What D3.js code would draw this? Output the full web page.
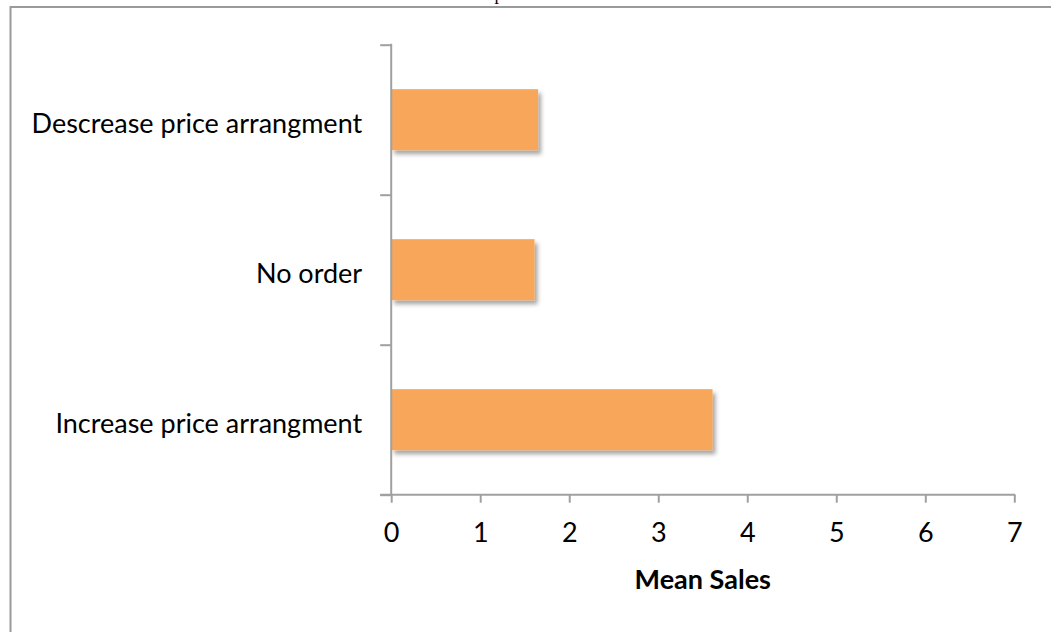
<!DOCTYPE html>
<html>
<head>
<meta charset="utf-8">
<script src="https://cdn.jsdelivr.net/npm/d3@7"></script>
<style>
  html, body { margin: 0; padding: 0; background: #fff; }
  svg { display: block; }
  text { font-family: Lato, "Open Sans", sans-serif; fill: #000; }
</style>
</head>
<body>
<svg id="chart" width="1051" height="632"></svg>
<script>
// Mean sales for each price arrangement condition
const categories = ["Descrease price arrangment", "No order", "Increase price arrangment"];
const meanSales = [1.65, 1.61, 3.61];
const xTicks = [0, 1, 2, 3, 4, 5, 6, 7];
const xTitle = "Mean Sales";

const W = 1051, H = 632;
const plot = { left: 391.2, right: 1014.3, top: 44.7, bottom: 494.7 };
const axisColor = "#a0a0a0";
const barColor = "#f8a75a";

const svg = d3.select("#chart");

// drop shadow for the bars
const defs = svg.append("defs");
const f = defs.append("filter").attr("id", "shadow")
  .attr("x", "-10%").attr("y", "-20%").attr("width", "130%").attr("height", "160%");
f.append("feDropShadow").attr("dx", 3).attr("dy", 4).attr("stdDeviation", 2.2)
  .attr("flood-color", "#000").attr("flood-opacity", 0.35);

// outer chart frame (runs past the right and bottom edges)
svg.append("rect")
  .attr("x", 10.5).attr("y", 7).attr("width", W + 20).attr("height", H + 20)
  .attr("fill", "none").attr("stroke", "#9a9a9a").attr("stroke-width", 2);

// title above the frame; only its descender reaches into view
svg.append("text")
  .attr("x", 499).attr("y", -0.5)
  .attr("text-anchor", "middle")
  .style("font-family", "'Liberation Serif', serif")
  .style("font-size", "18px")
  .text("p");

const x = d3.scaleLinear().domain([0, 7]).range([plot.left, plot.right]);
const y = d3.scaleBand().domain(categories)
  .range([plot.top, plot.bottom])
  .paddingInner(0.593).paddingOuter(0.2965);

// bars
svg.append("g").selectAll("rect")
  .data(categories.map((c, i) => ({ c, v: meanSales[i] })))
  .join("rect")
  .attr("x", x(0))
  .attr("y", d => y(d.c))
  .attr("width", d => x(d.v) - x(0))
  .attr("height", y.bandwidth())
  .attr("fill", barColor)
  .attr("filter", "url(#shadow)");

// vertical category axis: boundary ticks between categories
const yEdge = d3.scaleLinear().domain([0, categories.length]).range([plot.bottom, plot.top]);
const gy = svg.append("g").attr("transform", `translate(${plot.left},0)`)
  .call(d3.axisLeft(yEdge).ticks(categories.length).tickSize(11).tickSizeOuter(0).tickFormat(""));
gy.select(".domain").remove();
gy.selectAll(".tick line").attr("stroke", axisColor).attr("stroke-width", 2);
gy.append("line")
  .attr("x1", 0).attr("x2", 0).attr("y1", plot.top - 1).attr("y2", plot.bottom)
  .attr("stroke", axisColor).attr("stroke-width", 2);

// category labels
svg.append("g").selectAll("text")
  .data(categories)
  .join("text")
  .attr("x", plot.left - 29)
  .attr("y", d => y(d) + y.bandwidth() / 2)
  .attr("dy", "0.5em")
  .attr("text-anchor", "end")
  .style("font-size", "27px")
  .text(d => d);

// horizontal value axis
const gx = svg.append("g").attr("transform", `translate(0,${plot.bottom})`)
  .call(d3.axisBottom(x).tickValues(xTicks).tickSize(8).tickSizeOuter(0).tickFormat(d3.format("d")));
gx.select(".domain").remove();
gx.selectAll(".tick line").attr("stroke", axisColor).attr("stroke-width", 2);
gx.selectAll(".tick text")
  .attr("y", 28)
  .attr("dy", "0.71em")
  .style("font-family", "Lato, sans-serif")
  .style("font-size", "27px")
  .attr("fill", "#000");
gx.append("line")
  .attr("x1", plot.left - 11).attr("x2", plot.right + 1).attr("y1", 0).attr("y2", 0)
  .attr("stroke", axisColor).attr("stroke-width", 2);

// axis title
svg.append("text")
  .attr("x", (plot.left + plot.right) / 2)
  .attr("y", 580)
  .attr("dy", "0.35em")
  .attr("text-anchor", "middle")
  .style("font-size", "27px")
  .style("font-weight", "bold")
  .text(xTitle);
</script>
</body>
</html>
